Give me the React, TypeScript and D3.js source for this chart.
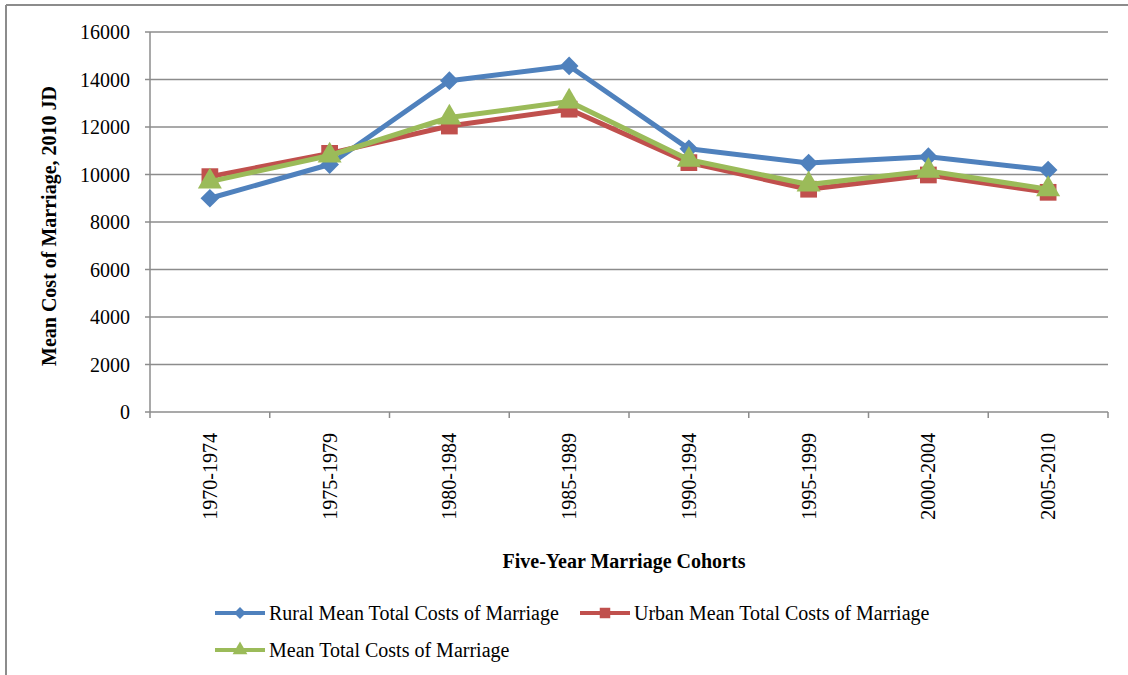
import React from "react"
import * as d3 from "d3"

const cohorts = ["1970-1974", "1975-1979", "1980-1984", "1985-1989", "1990-1994", "1995-1999", "2000-2004", "2005-2010"]
const ruralCosts = [9000, 10420, 13950, 14570, 11080, 10480, 10750, 10190]
const urbanCosts = [9910, 10890, 12040, 12750, 10500, 9380, 9980, 9250]
const meanCosts = [9700, 10800, 12400, 13070, 10620, 9580, 10150, 9380]
const yTicks = [0, 2000, 4000, 6000, 8000, 10000, 12000, 14000, 16000]

const seriesNames = [
  "Rural Mean Total Costs of Marriage",
  "Urban Mean Total Costs of Marriage",
  "Mean Total Costs of Marriage",
]

const W = 1128
const H = 675
const left = 150
const right = 1108
const top = 32
const bottom = 412
const font = "'Liberation Serif', 'Times New Roman', serif"
const gridColor = "#8c8c8c"

const App = () => {
  const x = d3.scaleBand<string>().domain(cohorts).range([left, right]).padding(0)
  const y = d3.scaleLinear().domain([0, 16000]).range([bottom, top])
  const cx = (c: string) => (x(c) ?? 0) + x.bandwidth() / 2

  const line = d3
    .line<number>()
    .x((_, i) => cx(cohorts[i]))
    .y((d) => y(d))

  const diamond = d3.symbol().type(d3.symbolSquare)
  const square = d3.symbol().type(d3.symbolSquare)
  const triangle = d3.symbol().type(d3.symbolTriangle)

  const series = [
    { name: seriesNames[0], values: ruralCosts, color: "#4F81BD", path: diamond.size(175)(), rot: 45, legendPath: diamond.size(70)() },
    { name: seriesNames[1], values: urbanCosts, color: "#C0504D", path: square.size(280)(), rot: 0, legendPath: square.size(110)() },
    { name: seriesNames[2], values: meanCosts, color: "#9BBB59", path: triangle.size(250)(), rot: 0, legendPath: triangle.size(95)() },
  ]

  const boundaries = d3.range(cohorts.length + 1).map((i) => left + i * x.bandwidth())

  const legendPos = [
    { lx: 215, ly: 613 },
    { lx: 580, ly: 613 },
    { lx: 215, ly: 650 },
  ]

  return (
    <svg width={W} height={H} style={{ position: "absolute", left: 0, top: 0, background: "#fff" }} fontFamily={font}>
      {/* outer frame */}
      <line x1={6} y1={5} x2={W} y2={5} stroke={gridColor} strokeWidth={2} />
      <line x1={6} y1={5} x2={6} y2={H} stroke={gridColor} strokeWidth={2} />

      {/* gridlines + y ticks */}
      {yTicks.map((t) => (
        <g key={t}>
          <line x1={left} x2={right} y1={y(t)} y2={y(t)} stroke={gridColor} strokeWidth={1.5} />
          <line x1={left - 5} x2={left} y1={y(t)} y2={y(t)} stroke={gridColor} strokeWidth={1.5} />
          <text x={130} y={y(t)} dy="0.35em" textAnchor="end" fontSize={20} fill="#000">
            {t}
          </text>
        </g>
      ))}

      {/* axes */}
      <line x1={left} x2={left} y1={top} y2={bottom} stroke={gridColor} strokeWidth={1.5} />
      {boundaries.map((b, i) => (
        <line key={i} x1={b} x2={b} y1={bottom} y2={bottom + 6} stroke={gridColor} strokeWidth={1.5} />
      ))}
      {cohorts.map((c) => (
        <text
          key={c}
          transform={`translate(${cx(c)},433) rotate(-90)`}
          dy="0.35em"
          textAnchor="end"
          fontSize={20}
          fill="#000"
        >
          {c}
        </text>
      ))}

      {/* axis titles */}
      <text x={624} y={568} textAnchor="middle" fontSize={20} fontWeight="bold" fill="#000">
        Five-Year Marriage Cohorts
      </text>
      <text transform="translate(56,226) rotate(-90)" textAnchor="middle" fontSize={20} fontWeight="bold" fill="#000">
        Mean Cost of Marriage,  2010 JD
      </text>

      {/* series */}
      {series.map((s) => (
        <g key={s.name}>
          <path d={line(s.values) ?? ""} fill="none" stroke={s.color} strokeWidth={5} strokeLinejoin="round" />
          {s.values.map((v, i) => (
            <path
              key={i}
              d={s.path ?? ""}
              transform={`translate(${cx(cohorts[i])},${y(v)}) rotate(${s.rot})`}
              fill={s.color}
            />
          ))}
        </g>
      ))}

      {/* legend */}
      {series.map((s, i) => {
        const { lx, ly } = legendPos[i]
        return (
          <g key={s.name}>
            <line x1={lx} x2={lx + 50} y1={ly} y2={ly} stroke={s.color} strokeWidth={4} />
            <path d={s.legendPath ?? ""} transform={`translate(${lx + 25},${ly}) rotate(${s.rot})`} fill={s.color} />
            <text x={lx + 54} y={ly} dy="0.35em" fontSize={20} fill="#000">
              {s.name}
            </text>
          </g>
        )
      })}
    </svg>
  )
}

export default App
